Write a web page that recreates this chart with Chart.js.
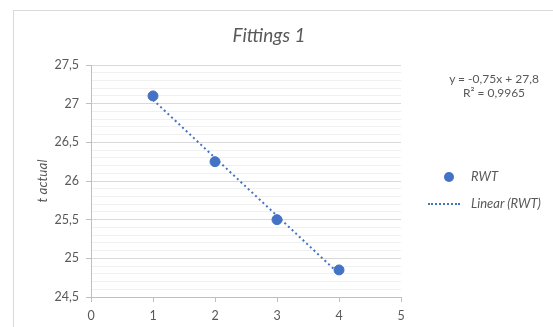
<!DOCTYPE html>
<html>
<head>
<meta charset="utf-8">
<script src="https://cdn.jsdelivr.net/npm/chart.js@4/dist/chart.umd.min.js"></script>
<style>
  html, body { margin: 0; padding: 0; background: #fff; overflow: hidden; }
  #wrap { position: relative; width: 553px; height: 327px; font-family: Lato, "Open Sans", sans-serif; }
  #frame { position: absolute; left: 13px; top: 10px; width: 600px; height: 400px; border: 1px solid #d9d9d9; box-sizing: border-box; }
  canvas { position: absolute; left: 0; top: 0; }
  .t { position: absolute; color: #595959; white-space: nowrap; }
  #title { left: 0; width: 538px; top: 23px; text-align: center; font-size: 19px; font-style: italic; }
  #eq { left: 440px; width: 108px; top: 72px; text-align: center; font-size: 12px; line-height: 14px; }
  .lg { font-size: 13px; font-style: italic; left: 471px; }
  #lgDot { position: absolute; left: 444px; top: 172px; width: 10px; height: 10px; border-radius: 50%; background: #4472C4; }
  #lgLine { position: absolute; left: 428px; top: 203px; width: 32px; height: 0; border-top: 2px dotted #4472C4; }
</style>
</head>
<body>
<div id="wrap">
  <div id="frame"></div>
  <canvas id="c" width="553" height="327"></canvas>
  <div class="t" id="title">Fittings 1</div>
  <div class="t" id="eq"></div>
  <div id="lgDot"></div>
  <div class="t lg" id="lg1" style="top:168px;"></div>
  <div id="lgLine"></div>
  <div class="t lg" id="lg2" style="top:195px;"></div>
</div>
<script>
// ---- data ----
const xValues = [1, 2, 3, 4];
const rwtValues = [27.1, 26.25, 25.5, 24.85];
const trendX = [1, 4];
const trendY = [27.05, 24.8];
const seriesNames = ["RWT", "Linear (RWT)"];
const equationLines = ["y = -0,75x + 27,8", "R² = 0,9965"];
const yAxisTitle = "t actual";

document.getElementById('eq').innerHTML = equationLines.join('<br>');
document.getElementById('lg1').textContent = seriesNames[0];
document.getElementById('lg2').textContent = seriesNames[1];

const blue = '#4472C4';
const fmt = v => String(Math.round(v * 10) / 10).replace('.', ',');
const isMajor = v => Math.abs(v * 2 - Math.round(v * 2)) < 1e-6;

new Chart(document.getElementById('c'), {
  type: 'scatter',
  data: {
    datasets: [
      {
        label: seriesNames[0],
        data: xValues.map((x, i) => ({ x, y: rwtValues[i] })),
        backgroundColor: blue,
        borderColor: blue,
        pointRadius: 5,
        pointHoverRadius: 5,
        showLine: false,
        order: 1
      },
      {
        label: seriesNames[1],
        data: trendX.map((x, i) => ({ x, y: trendY[i] })),
        borderColor: blue,
        borderWidth: 2,
        borderDash: [2, 3],
        pointRadius: 0,
        showLine: true,
        fill: false,
        order: 2
      }
    ]
  },
  options: {
    responsive: false,
    animation: false,
    events: [],
    layout: { padding: { left: 30, top: 65, right: 152, bottom: 0 } },
    plugins: { legend: { display: false }, tooltip: { enabled: false }, title: { display: false } },
    scales: {
      x: {
        type: 'linear',
        min: 0, max: 5,
        afterFit: s => { s.height = 30; },
        ticks: { stepSize: 1, color: '#595959', font: { family: 'Lato', size: 12.5 }, padding: 6 },
        grid: { drawOnChartArea: false, drawTicks: true, tickLength: 5, tickColor: '#bfbfbf' },
        border: { color: '#bfbfbf', width: 1 }
      },
      y: {
        type: 'linear',
        min: 24.5, max: 27.5,
        afterFit: s => { s.width = 61; },
        title: { display: true, text: yAxisTitle, color: '#595959', font: { family: 'Lato', size: 13.5, style: 'italic' }, padding: { top: 5, bottom: 0 } },
        ticks: {
          stepSize: 0.1, maxTicksLimit: 100, autoSkip: false,
          color: '#595959', font: { family: 'Lato', size: 12.5 }, padding: 7,
          callback: v => isMajor(v) ? fmt(v) : ''
        },
        grid: {
          color: ctx => (ctx.tick && isMajor(ctx.tick.value)) ? '#d9d9d9' : '#f0f0f0',
          tickColor: ctx => (ctx.tick && isMajor(ctx.tick.value)) ? '#bfbfbf' : 'rgba(0,0,0,0)',
          tickLength: 5
        },
        border: { color: '#bfbfbf', width: 1 }
      }
    }
  }
});
</script>
</body>
</html>
